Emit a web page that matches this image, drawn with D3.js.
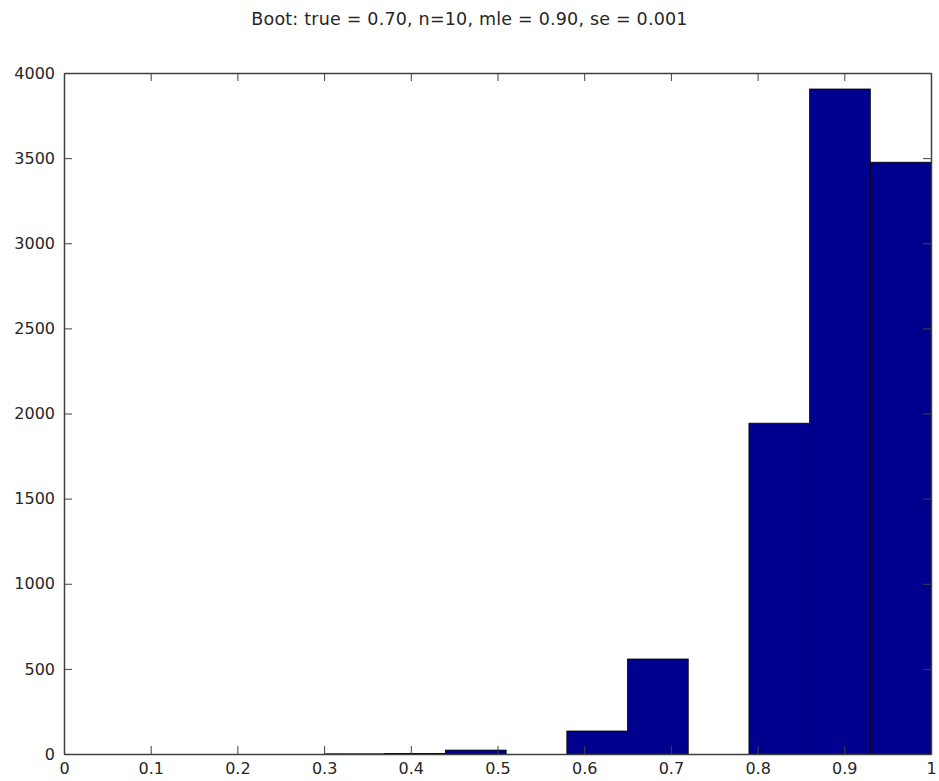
<!DOCTYPE html>
<html>
<head>
<meta charset="utf-8">
<script src="https://cdn.jsdelivr.net/npm/d3@7"></script>
<style>
  html, body { margin: 0; padding: 0; background: #fff; }
  svg { display: block; }
  text { font-family: "DejaVu Sans", "Liberation Sans", sans-serif; fill: #262626; }
</style>
</head>
<body>
<svg id="chart" width="939" height="781"></svg>
<script>
// Histogram of bootstrap estimates: bin centres and counts
const binCenters = [0.335, 0.405, 0.475, 0.545, 0.615, 0.685, 0.755, 0.825, 0.895, 0.965];
const binWidth = 0.07;
const counts = [1, 3, 23, 0, 135, 558, 0, 1943, 3906, 3476];
const xTicks = [0, 0.1, 0.2, 0.3, 0.4, 0.5, 0.6, 0.7, 0.8, 0.9, 1];
const yTicks = [0, 500, 1000, 1500, 2000, 2500, 3000, 3500, 4000];
const titleText = "Boot: true = 0.70, n=10, mle = 0.90, se = 0.001";

const svg = d3.select("#chart");
const m = { left: 64, right: 8, top: 73, bottom: 27 };
const W = 939, H = 781;

const x = d3.scaleLinear().domain([0, 1]).range([m.left, W - m.right]);
const y = d3.scaleLinear().domain([0, 4000]).range([H - m.bottom, m.top]);

// bars
svg.append("g").selectAll("rect")
  .data(binCenters.map((c, i) => ({ c, n: counts[i] })).filter(d => d.n > 0))
  .join("rect")
  .attr("x", d => x(d.c - binWidth / 2))
  .attr("width", d => x(d.c + binWidth / 2) - x(d.c - binWidth / 2))
  .attr("y", d => y(d.n))
  .attr("height", d => y(0) - y(d.n))
  .attr("fill", "#00008f")
  .attr("stroke", "#000")
  .attr("stroke-width", 0.8);

const fmtX = d => d3.format("~g")(d);
const tick = 8;

function style(g) {
  g.selectAll(".domain").attr("stroke", "#404040").attr("stroke-width", 1.5);
  g.selectAll(".tick line").attr("stroke", "#404040").attr("stroke-width", 1);
  g.selectAll("text").attr("font-size", 16).attr("fill", "#262626")
    .attr("font-family", "DejaVu Sans, Liberation Sans, sans-serif");
}

svg.append("g")
  .attr("transform", `translate(0,${y(0)})`)
  .call(d3.axisBottom(x).tickValues(xTicks).tickFormat(fmtX)
    .tickSizeInner(-tick).tickSizeOuter(0).tickPadding(9))
  .call(style);

svg.append("g")
  .attr("transform", `translate(0,${y(4000)})`)
  .call(d3.axisTop(x).tickValues(xTicks).tickFormat("")
    .tickSizeInner(-tick).tickSizeOuter(0))
  .call(style);

svg.append("g")
  .attr("transform", `translate(${x(0)},0)`)
  .call(d3.axisLeft(y).tickValues(yTicks).tickFormat(d3.format("d"))
    .tickSizeInner(-tick).tickSizeOuter(0).tickPadding(9))
  .call(style);

svg.append("g")
  .attr("transform", `translate(${x(1)},0)`)
  .call(d3.axisRight(y).tickValues(yTicks).tickFormat("")
    .tickSizeInner(-tick).tickSizeOuter(0))
  .call(style);

svg.append("text")
  .attr("x", W / 2)
  .attr("y", 24.5)
  .attr("text-anchor", "middle")
  .attr("font-size", 17.5)
  .attr("letter-spacing", 0.2)
  .text(titleText);
</script>
</body>
</html>
